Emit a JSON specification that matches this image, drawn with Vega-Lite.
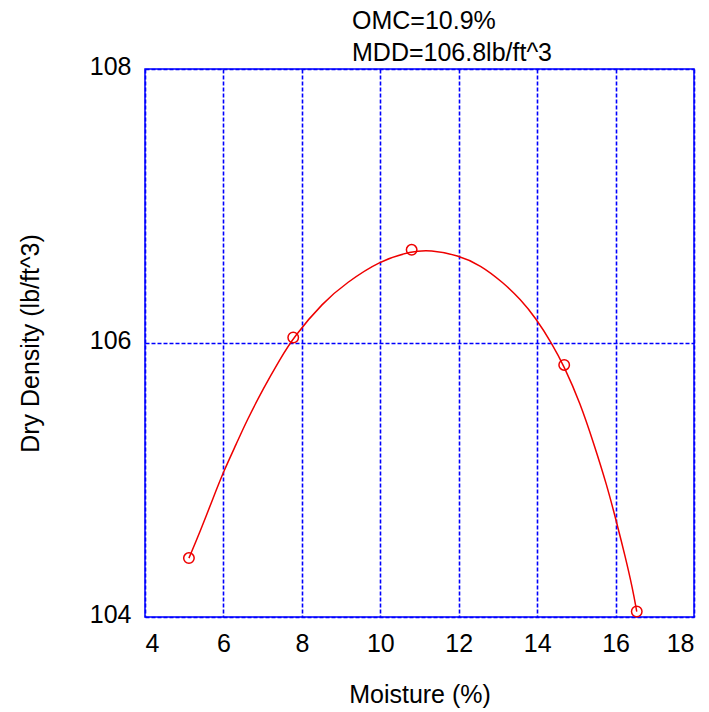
{
  "$schema": "https://vega.github.io/schema/vega-lite/v6.json",
  "autosize": "none",
  "width": 549,
  "height": 548,
  "padding": {"left": 145, "top": 69, "right": 15, "bottom": 95},
  "background": "white",
  "config": {
    "font": "Liberation Sans",
    "view": {"stroke": "#0000ff", "strokeWidth": 1.5},
    "axis": {
      "labelFont": "Liberation Sans",
      "titleFont": "Liberation Sans",
      "labelColor": "black",
      "titleColor": "black",
      "labelFontSize": 25,
      "titleFontSize": 25,
      "titleFontWeight": "normal",
      "domain": false,
      "grid": true,
      "gridColor": "#0000ff",
      "gridDash": [4, 2],
      "gridWidth": 1.6,
      "gridOpacity": 1,
      "ticks": false
    }
  },
  "title": {
    "text": ["OMC=10.9%", "MDD=106.8lb/ft^3"],
    "anchor": "start",
    "frame": "group",
    "dx": 207,
    "dy": 18,
    "offset": 6,
    "fontSize": 25,
    "fontWeight": "normal",
    "font": "Liberation Sans",
    "color": "black",
    "lineHeight": 32
  },
  "datasets": {
    "curve": [
      {"m": 5.12, "d": 104.43},
      {"m": 5.40, "d": 104.62},
      {"m": 5.74, "d": 104.87},
      {"m": 6.00, "d": 105.06},
      {"m": 6.34, "d": 105.27},
      {"m": 6.59, "d": 105.43},
      {"m": 7.02, "d": 105.67},
      {"m": 7.44, "d": 105.88},
      {"m": 7.78, "d": 106.04},
      {"m": 8.55, "d": 106.30},
      {"m": 9.14, "d": 106.44},
      {"m": 9.98, "d": 106.60},
      {"m": 10.80, "d": 106.67},
      {"m": 11.27, "d": 106.68},
      {"m": 11.99, "d": 106.64},
      {"m": 12.55, "d": 106.57},
      {"m": 13.14, "d": 106.44},
      {"m": 13.57, "d": 106.32},
      {"m": 13.97, "d": 106.18},
      {"m": 14.37, "d": 106.00},
      {"m": 14.69, "d": 105.83},
      {"m": 15.10, "d": 105.56},
      {"m": 15.44, "d": 105.27},
      {"m": 15.78, "d": 104.96},
      {"m": 16.00, "d": 104.72},
      {"m": 16.24, "d": 104.45},
      {"m": 16.44, "d": 104.20},
      {"m": 16.54, "d": 104.04}
    ],
    "points": [
      {"m": 5.12, "d": 104.43},
      {"m": 7.78, "d": 106.04},
      {"m": 10.80, "d": 106.68},
      {"m": 14.69, "d": 105.84},
      {"m": 16.54, "d": 104.04}
    ]
  },
  "layer": [
    {
      "data": {"name": "curve"},
      "mark": {"type": "line", "color": "#ee0000", "strokeWidth": 1.5, "interpolate": "basis"},
      "encoding": {
        "x": {"field": "m", "type": "quantitative", "scale": {"domain": [4, 18], "nice": false}, "axis": {"values": [4, 6, 8, 10, 12, 14, 16, 18], "title": "Moisture (%)", "labelPadding": 14, "titlePadding": 26, "gridColor": "#0000ff"}},
        "y": {"field": "d", "type": "quantitative", "scale": {"domain": [104, 108], "nice": false, "zero": false}, "axis": {"values": [104, 106, 108], "format": "d", "title": "Dry Density (lb/ft^3)", "labelPadding": 14, "labelOffset": -3, "titlePadding": 46, "gridColor": "#0000ff"}}
      }
    },
    {
      "data": {"name": "points"},
      "mark": {"type": "point", "shape": "circle", "filled": false, "color": "#ee0000", "size": 110, "strokeWidth": 1.5, "opacity": 1},
      "encoding": {
        "x": {"field": "m", "type": "quantitative"},
        "y": {"field": "d", "type": "quantitative"}
      }
    }
  ]
}
